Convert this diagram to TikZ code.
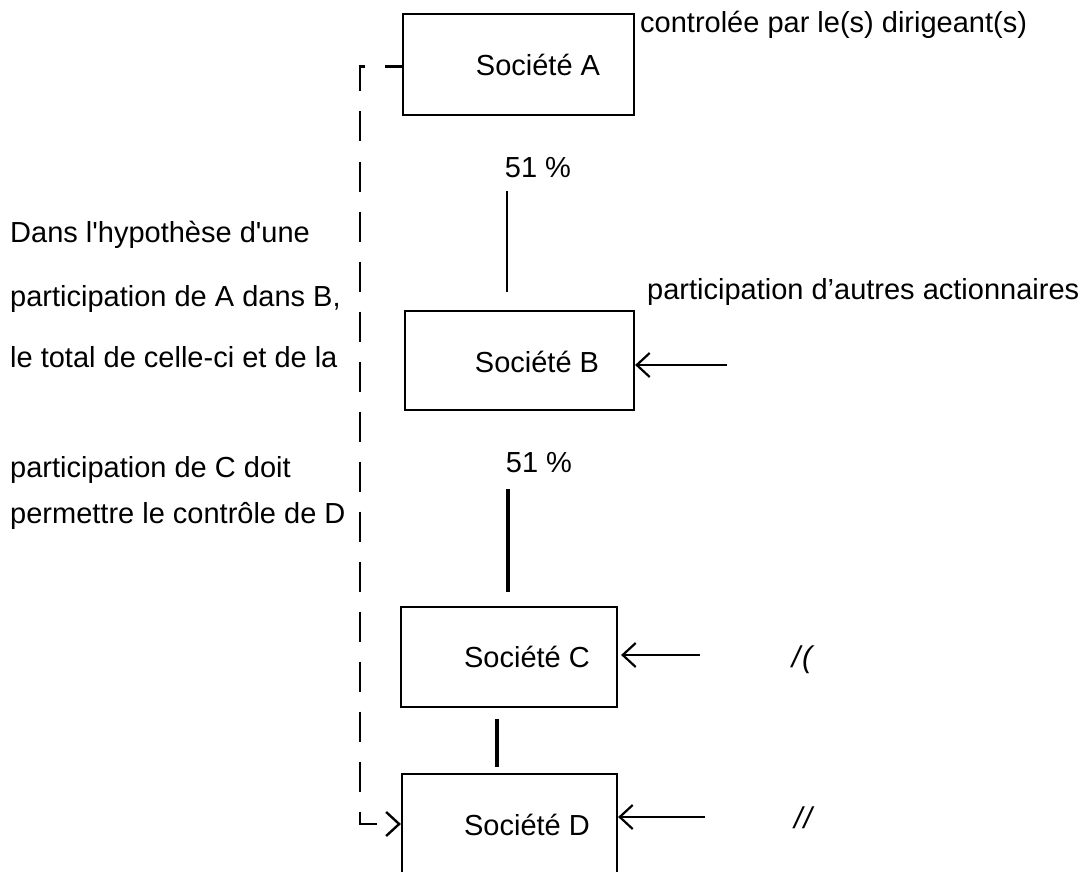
\documentclass[tikz,border=0pt]{standalone}
\usepackage{fontspec}
\setmainfont{Liberation Sans}
\usetikzlibrary{arrows.meta}
\begin{document}
\begin{tikzpicture}[x=1pt,y=-1pt,
  font=\fontsize{29}{34}\selectfont,
  company/.style={draw, line width=2.2pt, inner sep=0pt},
  conn/.style={line width=2.8pt},
  feed/.style={line width=2.2pt, -{Straight Barb[length=13pt,width=24pt]}},
  ctrl/.style={line width=2.4pt, dash pattern=on 30pt off 20pt, dash phase=13pt,
               -{Straight Barb[length=13pt,width=24pt]}},
  txt/.style={inner sep=0pt, anchor=base west},
  lbl/.style={inner sep=0pt, anchor=base},
  ditto/.style={inner sep=0pt, font=\fontsize{30}{34}\selectfont\itshape},
]
\clip (0,0) rectangle (1081,872);

% companies
\node[company, minimum width=231pt, minimum height=101pt] (A) at (518.5,64.5) {};
\node[company, minimum width=229pt, minimum height=99pt]  (B) at (519.5,360.5) {};
\node[company, minimum width=216pt, minimum height=100pt] (C) at (509,657) {};
\node[company, minimum width=215pt, minimum height=126pt] (D) at (509.5,837) {};

\node[lbl] (tA) at (538,76)  {Société A};
\node[lbl] (tB) at (537,372) {Société B};
\node[lbl] (tC) at (527,667) {Société C};
\node[lbl] (tD) at (527,835) {Société D};

% shareholdings
\draw[conn, line width=2.4pt] ([xshift=-11.5pt,yshift=-75pt]A.south) -- ([xshift=-12.5pt,yshift=18pt]B.north);
\draw[conn, line width=3.2pt] ([xshift=-11.5pt,yshift=-78pt]B.south) -- ([xshift=-1pt,yshift=14pt]C.north);
\draw[conn, line width=3.2pt] ([xshift=-12pt,yshift=-11pt]C.south) -- ([xshift=-12.5pt,yshift=6pt]D.north);

\node[lbl] (pAB) at (538,177) {51 \%};
\node[lbl] (pBC) at (539,472) {51 \%};

% other shareholders
\coordinate (sB) at (727,365);
\coordinate (sC) at (700,655);
\coordinate (sD) at (705,817);
\draw[feed] (sB) -- (sB -| B.east);
\draw[feed] (sC) -- ([xshift=3pt]sC -| C.east);
\draw[feed] (sD) -- (sD -| D.east);

\node[txt] (ctl) at (640,33) {controlée par le(s) dirigeant(s)};
\node[txt] (oth) at (647,299) {participation d'autres actionnaires};
\node[ditto] (dC) at (802,660) {/\kern2pt(};
\node[ditto] (dD) at (803,818) {/\kern1pt/};

% control of D by the leaders of A
\draw[ctrl] ([yshift=-2pt]A.west) -- ++(-42,0) |- ([yshift=13pt]D.west);

\node[txt] (n1) at (10,242) {Dans l\textquotesingle hypothèse d\textquotesingle une};
\node[txt] (n2) at (10,306) {participation de A dans B,};
\node[txt] (n3) at (10,367) {le total de celle-ci et de la};
\node[txt] (n4) at (10,477) {participation de C doit};
\node[txt] (n5) at (10,523) {permettre le contrôle de D};
\end{tikzpicture}
\end{document}
